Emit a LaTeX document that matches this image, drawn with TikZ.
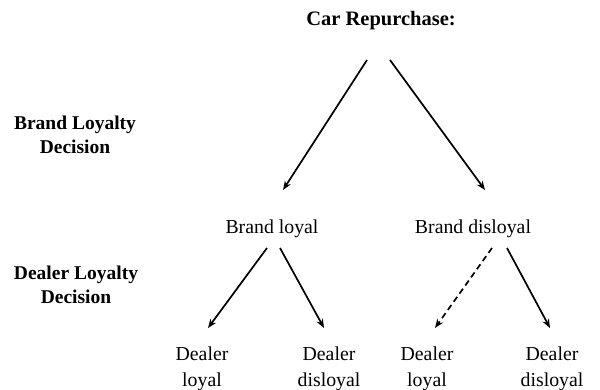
\documentclass[tikz,border=0pt]{standalone}
\usepackage{fontspec}
\setmainfont{Liberation Serif}
\usetikzlibrary{arrows.meta}
\begin{document}
\begin{tikzpicture}[x=1pt,y=-1pt,
  lbl/.style={font=\fontsize{19.8}{26}\selectfont, align=center, inner sep=0pt},
  blbl/.style={font=\fontsize{19.5}{24.5}\selectfont\bfseries, align=center, inner sep=0pt},
  arr/.style={line width=1.7pt, -{Stealth[length=9pt,width=7pt]}},
  darr/.style={arr, dash pattern=on 6pt off 4pt}]
\useasboundingbox (0,0) rectangle (600,390);
\node[blbl, font=\fontsize{20.5}{24.5}\selectfont\bfseries] (root) at (381,21) {Car Repurchase:};
\node[blbl] (bld) at (75,135) {Brand Loyalty\\Decision};
\node[blbl] (dld) at (76,285) {Dealer Loyalty\\Decision};
\node[lbl] (bl) at (272,229) {Brand loyal};
\node[lbl] (bd) at (473,229) {Brand disloyal};
\node[lbl] (l1) at (202,369) {Dealer\\loyal};
\node[lbl] (l2) at (329,369) {Dealer\\disloyal};
\node[lbl] (l3) at (427,369) {Dealer\\loyal};
\node[lbl] (l4) at (552,369) {Dealer\\disloyal};
\coordinate (r1) at (367,60);
\coordinate (r2) at (390,60);
\coordinate (e1) at (283,190);
\coordinate (e2) at (485,190);
\coordinate (a1) at (267,248);
\coordinate (a2) at (280,248);
\coordinate (a3) at (492,248);
\coordinate (a4) at (507,248);
\coordinate (b1) at (208,328);
\coordinate (b2) at (324,328);
\coordinate (b3) at (435,328);
\coordinate (b4) at (550,328);
\draw[arr] (r1) -- (e1);
\draw[arr] (r2) -- (e2);
\draw[arr] (a1) -- (b1);
\draw[arr] (a2) -- (b2);
\draw[darr] (a3) -- (b3);
\draw[arr] (a4) -- (b4);
\end{tikzpicture}
\end{document}
